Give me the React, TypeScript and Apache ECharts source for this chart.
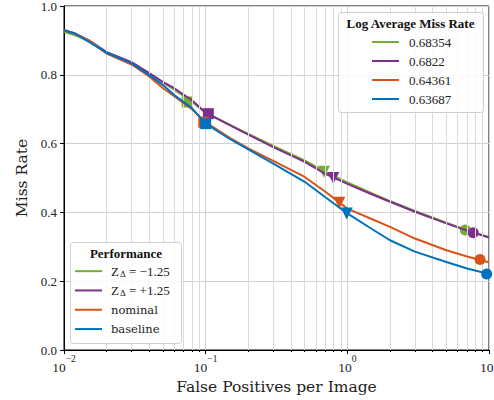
import React, { useEffect, useRef } from "react";
import * as echarts from "echarts";

const fppi = [0.01, 0.012, 0.015, 0.02, 0.03, 0.04, 0.05, 0.06, 0.08, 0.1, 0.15, 0.2, 0.3, 0.5, 0.7, 1, 1.5, 2, 3, 5, 7, 10];
const missZm = [0.925, 0.915, 0.898, 0.866, 0.835, 0.803, 0.778, 0.757, 0.722, 0.69, 0.654, 0.628, 0.593, 0.551, 0.518, 0.487, 0.455, 0.433, 0.404, 0.37, 0.348, 0.328];
const missZp = [0.93, 0.92, 0.9, 0.866, 0.837, 0.805, 0.779, 0.761, 0.726, 0.69, 0.652, 0.626, 0.59, 0.547, 0.512, 0.483, 0.452, 0.431, 0.402, 0.368, 0.347, 0.327];
const missNominal = [0.93, 0.918, 0.9, 0.862, 0.83, 0.795, 0.761, 0.738, 0.7, 0.662, 0.615, 0.586, 0.55, 0.503, 0.46, 0.411, 0.38, 0.358, 0.324, 0.29, 0.272, 0.255];
const missBaseline = [0.929, 0.92, 0.896, 0.864, 0.833, 0.799, 0.77, 0.741, 0.703, 0.658, 0.612, 0.583, 0.542, 0.489, 0.444, 0.397, 0.351, 0.319, 0.286, 0.256, 0.237, 0.221];

const markZm = [[0.074, 0.721], [0.684, 0.518], [6.8, 0.349]];
const markZp = [[0.1044, 0.687], [0.796, 0.5], [7.74, 0.341]];
const markNominal = [[0.097, 0.662], [0.878, 0.428], [8.64, 0.263]];
const markBaseline = [[0.1, 0.658], [0.99, 0.397], [9.63, 0.221]];

const seriesNames = ["zm", "zp", "nominal", "baseline"];
const lamrLabels = ["0.68354", "0.6822", "0.64361", "0.63687"];
const colors = ["#77AC30", "#7E2F8E", "#D95319", "#0072BD"];
const minorGridX = [0.02, 0.03, 0.04, 0.05, 0.06, 0.07, 0.08, 0.09, 0.2, 0.3, 0.4, 0.5, 0.6, 0.7, 0.8, 0.9, 2, 3, 4, 5, 6, 7, 8, 9];
const yTicks = [0, 0.2, 0.4, 0.6, 0.8, 1.0];

const SERIF = "'Liberation Serif', serif";
const DSERIF = "'DejaVu Serif', serif";

export default function App() {
  const ref = useRef<HTMLDivElement>(null);
  useEffect(() => {
    if (!ref.current) return;
    const chart = echarts.init(ref.current, null, { renderer: "svg" });
    const curves = [missZm, missZp, missNominal, missBaseline];
    const marks = [markZm, markZp, markNominal, markBaseline];
    const symbols = ["rect", "triangle", "circle"];
    const sizes = [11, 12, 11];
    const series: any[] = [];
    series.push({
      type: "line",
      name: "__grid",
      data: [[1, 0.5]],
      symbol: "none",
      showSymbol: false,
      lineStyle: { opacity: 0 },
      z: 1,
      silent: true,
      markLine: {
        silent: true,
        symbol: ["none", "none"],
        label: { show: false },
        lineStyle: { color: "#dcdcdc", width: 1, type: "solid" },
        data: minorGridX.map((v) => ({ xAxis: v })),
      },
    });
    curves.forEach((c, i) => {
      series.push({
        type: "line",
        name: seriesNames[i],
        data: fppi.map((x, j) => [x, c[j]]),
        showSymbol: false,
        symbol: "none",
        lineStyle: { width: 2, color: colors[i] },
        itemStyle: { color: colors[i] },
        color: colors[i],
        z: 3 + i,
      });
      series.push({
        type: "scatter",
        name: "m_" + seriesNames[i],
        data: marks[i].map((p, k) => ({
          value: p,
          symbol: symbols[k],
          symbolSize: sizes[k],
          symbolRotate: k === 1 ? 180 : 0,
        })),
        itemStyle: { color: colors[i], opacity: 1 },
        z: 3 + i,
      });
    });
    lamrLabels.forEach((n, i) => {
      series.push({
        type: "line",
        name: n,
        data: [],
        color: colors[i],
        lineStyle: { color: colors[i], width: 2 },
        itemStyle: { color: colors[i] },
      });
    });

    const legendRich = {
      z: { fontFamily: SERIF, fontSize: 13, color: "#222" },
      s: { fontFamily: SERIF, fontSize: 9, color: "#222", verticalAlign: "bottom", padding: [6, 0, 0, 1] },
      t: { fontFamily: DSERIF, fontSize: 11.5, color: "#222" },
    };

    chart.setOption({
      animation: false,
      backgroundColor: "#fff",
      grid: { left: 64, right: 5, top: 6, bottom: 50, show: true, borderColor: "#000", borderWidth: 1, containLabel: false, outerBoundsMode: "none" },
      xAxis: [
        {
          type: "log",
          logBase: 10,
          min: 0.01,
          max: 10,
          name: "False Positives per Image",
          nameLocation: "middle",
          nameGap: 22,
          nameTextStyle: { fontFamily: DSERIF, fontSize: 15.5, color: "#222" },
          axisLine: { show: true, lineStyle: { color: "#000", width: 1 } },
          axisTick: { show: true, length: 4, lineStyle: { color: "#000" } },
          splitLine: { show: true, lineStyle: { color: "#d0d0d0", width: 1 } },
          axisLabel: {
            margin: 4,
            color: "#222",
            fontFamily: SERIF,
            fontSize: 13,
            hideOverlap: false,
            showMaxLabel: true,
            formatter: (v: number) => {
              const e = Math.round(Math.log10(v));
              return "{b|10}{p|" + (e < 0 ? "\u2212" + -e : String(e)) + "}";
            },
            rich: {
              b: { fontFamily: SERIF, fontSize: 13.5, color: "#222", lineHeight: 20, verticalAlign: "bottom" },
              p: { fontFamily: SERIF, fontSize: 9.5, color: "#222", verticalAlign: "top", lineHeight: 9 },
            },
          },
        },
        {
          type: "log",
          logBase: 10,
          min: 0.01,
          max: 10,
          gridIndex: 0,
          position: "bottom",
          axisLine: { show: false },
          axisLabel: { show: false },
          axisTick: { show: true, length: 2, customValues: minorGridX, lineStyle: { color: "#000" } },
          splitLine: { show: false },
        },
      ],
      yAxis: {
        type: "value",
        min: 0,
        max: 1,
        interval: 0.2,
        name: "Miss Rate",
        nameLocation: "middle",
        nameGap: 33,
        nameTextStyle: { fontFamily: DSERIF, fontSize: 15.5, color: "#222" },
        axisLine: { show: true, lineStyle: { color: "#000", width: 1 } },
        axisTick: { show: true, length: 4, lineStyle: { color: "#000" } },
        splitLine: { show: true, lineStyle: { color: "#d0d0d0", width: 1 } },
        axisLabel: {
          margin: 7,
          color: "#222",
          fontFamily: SERIF,
          fontSize: 13,
          formatter: (v: number) => (yTicks.includes(Math.round(v * 10) / 10) ? v.toFixed(1) : ""),
        },
      },
      legend: [
        {
          orient: "vertical",
          left: 75,
          top: 264,
          z: 120,
          data: seriesNames,
          icon: "rect",
          itemWidth: 27,
          itemHeight: 2,
          itemGap: 5,
          padding: 0,
          textStyle: { lineHeight: 14.3, padding: [0, 0, 0, 4], rich: legendRich },
          formatter: (n: string) => {
            if (n === "zm") return "{z|Z}{s|\u0394}{z| = \u22121.25}";
            if (n === "zp") return "{z|Z}{s|\u0394}{z| = +1.25}";
            return "{t|" + n + "}";
          },
        },
        {
          orient: "vertical",
          left: 372,
          top: 35,
          z: 120,
          data: lamrLabels,
          icon: "rect",
          itemWidth: 27,
          itemHeight: 2,
          itemGap: 5,
          padding: 0,
          textStyle: { fontFamily: SERIF, fontSize: 13, color: "#222", lineHeight: 14, padding: [0, 0, 0, 5] },
        },
      ],
      graphic: [
        {
          type: "rect",
          z: 100,
          shape: { x: 338.5, y: 12.5, width: 145, height: 100, r: 3 },
          style: { fill: "rgba(255,255,255,0.85)", stroke: "#cfcfcf", lineWidth: 1 },
        },
        {
          type: "text",
          z: 101,
          x: 410.5,
          y: 23.5,
          style: { text: "Log Average Miss Rate", fontFamily: SERIF, fontWeight: "bold", fontSize: 13, fill: "#111", align: "center", verticalAlign: "middle" },
        },
        {
          type: "rect",
          z: 100,
          shape: { x: 70.5, y: 242.5, width: 111, height: 101, r: 3 },
          style: { fill: "rgba(255,255,255,0.85)", stroke: "#cfcfcf", lineWidth: 1 },
        },
        {
          type: "text",
          z: 101,
          x: 126,
          y: 253,
          style: { text: "Performance", fontFamily: SERIF, fontWeight: "bold", fontSize: 13, fill: "#111", align: "center", verticalAlign: "middle" },
        },
      ],
      series,
    });
    return () => chart.dispose();
  }, []);
  return <div ref={ref} style={{ position: "fixed", left: 0, top: 0, width: 494, height: 400 }} />;
}
